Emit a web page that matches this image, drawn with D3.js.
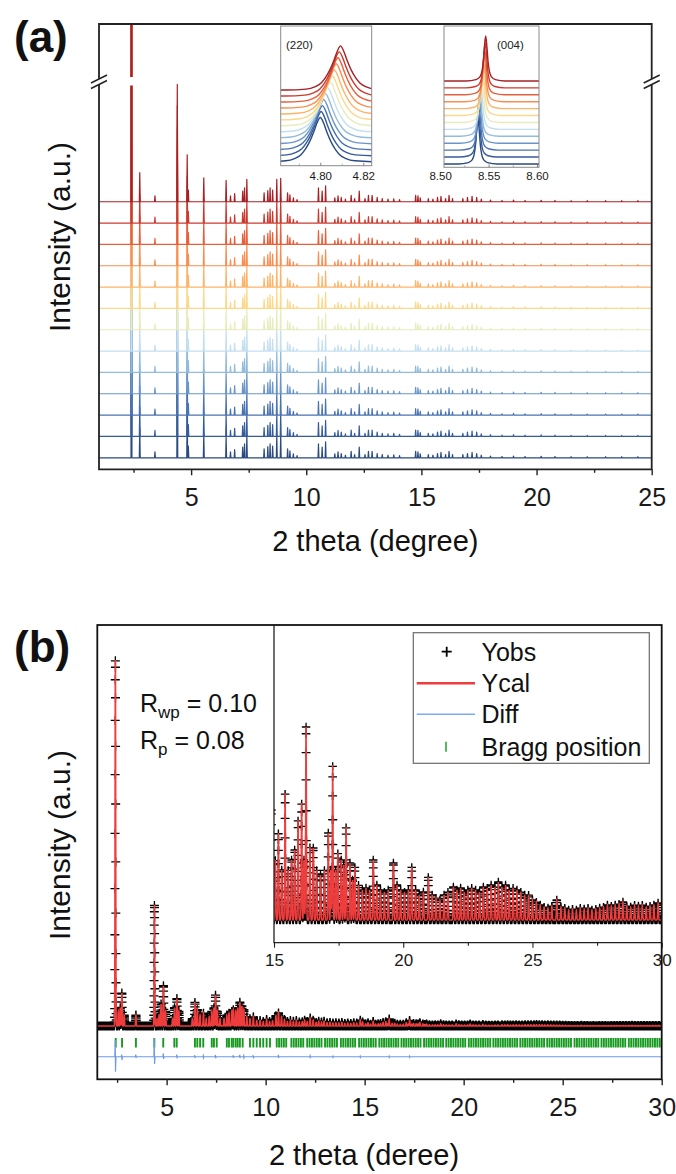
<!DOCTYPE html>
<html><head><meta charset="utf-8">
<script src="https://cdn.jsdelivr.net/npm/d3@7"></script>
<style>body{margin:0;background:#fff}svg{display:block}</style>
</head><body>
<svg id="c" width="676" height="1174"></svg>
<script>
// ---------------- DATA ----------------
// Panel (a): stacked patterns (13 temperatures, bottom -> top)
const aColors = ["#2a4a80","#355b9c","#4a73b2","#6a95c9","#92bbdc","#c4dff0","#e8ecbc","#fdd88a","#fdb46a","#f88e52","#e6603c","#cb3a2e","#a62024"];
const aPeakPos = [2.41,2.77,3.43,4.40,4.83,4.88,5.55,6.52,6.71,6.89,7.24,7.32,7.42,8.17,8.33,8.43,8.54,8.72,8.89,9.19,9.29,9.44,9.60,10.53,10.69,10.84,11.24,11.38,11.52,11.70,11.95,12.10,12.30,12.55,12.70,12.86,13.08,13.30,13.55,13.80,14.05,14.75,14.85,14.95,15.30,15.50,15.70,15.85,16.05,16.20,16.35,16.80,17.00,17.20,17.40,17.60,18.00,18.50,19.00,19.50,20.20,20.80,21.50,22.20,23.00,23.70,24.40];
const aPeakInt = [40,1.36,0.28,5.5,2.2,0.55,1.12,1.0,0.28,0.38,0.5,0.65,1.05,0.42,0.52,0.65,0.55,1.05,1.1,0.42,0.32,0.18,0.1,0.65,0.5,0.75,0.18,0.28,0.2,0.12,0.3,0.15,0.5,0.15,0.3,0.3,0.2,0.15,0.12,0.14,0.1,0.3,0.28,0.18,0.15,0.12,0.2,0.25,0.15,0.3,0.15,0.15,0.2,0.25,0.2,0.12,0.08,0.06,0.08,0.06,0.07,0.06,0.05,0.05,0.05,0.05,0.05];
const aXTicks = [5,10,15,20,25];
const aXMinor = [2.5,7.5,12.5,17.5,22.5];
// (220) inset
const a220Centers = [4.8000,4.8004,4.8010,4.8016,4.8024,4.8034,4.8046,4.8056,4.8065,4.8074,4.8082,4.8088,4.8094];
const profile220Off = [-0.025,-0.016,-0.012,-0.009,-0.007,-0.005,-0.003,-0.0015,0,0.0015,0.003,0.005,0.007,0.009,0.012,0.016,0.025];
const profile220Rel = [0,0.02,0.07,0.16,0.28,0.45,0.68,0.88,1,0.88,0.68,0.45,0.28,0.16,0.07,0.02,0];
const a220Ticks = [4.80,4.82];
const a220Minor = [4.79,4.81];
// (004) inset
const a004Centers = [8.5390,8.5395,8.5400,8.5405,8.5410,8.5420,8.5430,8.5440,8.5450,8.5455,8.5460,8.5465,8.5470];
const profile004Off = [-0.02,-0.01,-0.006,-0.004,-0.0025,-0.0012,0,0.0012,0.0025,0.004,0.006,0.01,0.02];
const profile004Rel = [0,0.03,0.09,0.2,0.42,0.78,1,0.78,0.42,0.2,0.09,0.03,0];
const a004Ticks = [8.50,8.55,8.60];
const a004Minor = [8.525,8.575];

// Panel (b): refinement
const bPos = [2.413,2.56,2.66,2.74,2.86,3.45,4.385,4.52,4.62,4.72,4.84,4.95,5.30,5.40,5.52,5.62,6.30,6.43,6.55,6.69,6.86,7.00,7.15,7.28,7.39,7.47,7.56,7.70,7.90,8.04,8.15,8.29,8.37,8.49,8.59,8.70,8.80,8.90,9.05,9.21,9.38,9.55,9.72,9.88,
10.05,10.20,10.35,10.52,10.65,10.80,10.95,11.10,11.25,11.40,11.55,11.70,11.85,11.97,12.10,12.25,12.40,12.55,12.68,12.82,12.95,13.10,13.25,13.40,13.55,13.70,13.85,14.00,14.15,14.30,14.45,14.60,14.78,14.90,15.05,
15.17,15.30,15.43,15.55,15.68,15.80,15.93,16.07,16.16,16.24,16.39,16.52,16.65,16.80,16.95,17.10,17.20,17.27,17.38,17.47,17.60,17.70,17.79,17.94,18.04,18.13,18.27,18.42,18.56,18.70,18.84,18.98,19.12,19.27,19.42,19.62,19.76,19.90,20.05,20.20,20.33,20.48,20.62,20.78,20.97,21.12,21.27,21.42,21.58,21.73,21.94,22.08,22.22,22.36,22.50,22.65,22.80,22.95,23.10,23.25,23.40,23.55,23.68,23.82,23.96,24.10,24.25,24.40,24.55,24.70,24.85,25.00,25.15,25.30,25.45,25.60,25.75,25.94,26.10,26.25,26.40,26.55,26.70,26.85,27.00,27.15,27.30,27.45,27.60,27.75,27.90,28.05,28.20,28.35,28.50,28.65,28.80,28.95,29.10,29.25,29.40,29.55,29.70,29.86];
const bInt = [100,4,5,9,3,3,33,2,3,6,11,4,2,5,7.5,4,2,6.5,4.5,3,3.5,2,2.5,4,5,8.5,4,2,2,3,3.5,4,4.5,4,5,6.5,5.5,4.5,2.5,2,2.5,1.5,1.5,1.2,
1.8,1.2,1.4,2.8,3.6,2.5,1.8,1.2,1.5,1.3,1.5,1.1,1.2,1.6,1.2,2.2,1.6,1.0,1.3,1.1,1.3,0.9,1.0,0.8,0.9,0.8,1.0,0.7,0.8,0.7,0.9,0.8,1.6,1.1,0.6,
0.87,0.5,1.27,0.5,0.6,0.7,1.0,1.17,0.6,1.93,0.73,0.72,0.5,0.45,0.5,0.87,0.5,1.55,0.5,0.67,0.6,0.55,0.93,0.57,0.4,0.53,0.35,0.3,0.32,0.3,0.6,0.35,0.3,0.28,0.3,0.57,0.35,0.3,0.28,0.3,0.53,0.3,0.25,0.28,0.43,0.25,0.22,0.2,0.25,0.28,0.33,0.3,0.32,0.28,0.3,0.32,0.3,0.28,0.33,0.32,0.35,0.33,0.38,0.33,0.35,0.3,0.32,0.3,0.28,0.25,0.25,0.2,0.18,0.15,0.13,0.12,0.14,0.2,0.13,0.12,0.1,0.11,0.1,0.12,0.11,0.12,0.1,0.11,0.12,0.13,0.15,0.14,0.15,0.16,0.18,0.14,0.13,0.15,0.14,0.15,0.13,0.14,0.15,0.17];
const braggPos = [2.43,2.75,3.45,4.38,4.83,5.39,5.51,6.43,6.55,6.69,6.85,7.28,7.39,7.53,8.04,8.15,8.29,8.37,8.49,8.59,8.70,8.84,9.21,9.38,9.55,9.72,9.88,10.05,10.22,
10.56,10.68,10.80,10.92,11.04,11.30,11.42,11.54,11.66,11.78,11.90,12.10,12.22,12.34,12.46,12.58,12.70,12.82,13.00,13.12,13.24,13.36,13.48,13.60,13.80,13.92,14.04,14.16,14.28,14.40,14.52,14.72,14.84,14.96,15.08,15.20,15.32,15.44,15.56,15.74,15.86,15.98,16.10,16.22,16.34,16.46,16.58,16.70,16.86,16.98,17.10,17.22,17.34,17.46,17.58,17.70,17.82,18.00,18.12,18.24,18.36,18.48,18.60,18.72,18.84,18.96,19.12,19.24,19.36,19.48,19.60,19.72,19.84,19.96,20.08,20.26,20.38,20.50,20.62,20.74,20.86,20.98,21.10,21.22,21.34,21.50,21.62,21.74,21.86,21.98,22.10,22.22,22.34,22.46,22.58,22.70,22.86,22.98,23.10,23.22,23.34,23.46,23.58,23.70,23.82,23.94,24.06,24.22,24.34,24.46,24.58,24.70,24.82,24.94,25.06,25.18,25.30,25.42,25.60,25.72,25.84,25.96,26.08,26.20,26.32,26.44,26.56,26.68,26.80,26.96,27.08,27.20,27.32,27.44,27.56,27.68,27.80,27.92,28.04,28.16,28.34,28.46,28.58,28.70,28.82,28.94,29.06,29.18,29.30,29.42,29.54,29.66,29.78,29.90];
const diffPos = [2.413,2.74,3.45,4.385,4.84,5.52,6.43,6.86,7.47,8.37,8.70,8.90,9.38,10.65,12.25,13.40,14.78,16.24,17.27];
const diffUp = [4.6,0.6,0.6,5.0,0.9,0.6,0.4,0.3,0.5,0.4,0.5,0.3,0.4,0.5,0.3,0.2,0.2,0.2,0.2];
const diffDown = [4.1,0.9,0.3,2.0,0.6,0.4,0.3,0.3,0.4,0.3,0.3,0.3,0.2,0.3,0.2,0.2,0.2,0.2,0.2];
const diffBase = -8.4;
const bXTicks = [5,10,15,20,25,30];
const bXMinor = [2.5,7.5,12.5,17.5,22.5,27.5];
const bInsetTicks = [15,20,25,30];
const bInsetMinor = [17.5,22.5,27.5];
const legendItems = ["Yobs","Ycal","Diff","Bragg position"];

// ---------------- DRAW ----------------
const F = '"Liberation Sans", Arial, Helvetica, sans-serif';
const svg = d3.select('#c');
const defs = svg.append('defs');

function styleAxis(ax, fs, col){
  ax.select('.domain').remove();
  ax.selectAll('line').attr('stroke', col || '#222').attr('stroke-width', 1.4);
  ax.selectAll('text').attr('font-size', fs).attr('font-family', F).attr('fill', '#1a1a1a');
}

// ===== Panel (a) =====
const A = {l:99, r:651.7, t:24, b:469.3};
const xA = d3.scaleLinear().domain([1,25]).range([A.l,A.r]);
const yA = d3.scaleLinear().domain([-0.54,20.33]).range([A.b,A.t]);
defs.append('clipPath').attr('id','clipA').append('rect')
  .attr('x',A.l).attr('y',A.t).attr('width',A.r-A.l).attr('height',A.b-A.t);
const gA = svg.append('g').attr('clip-path','url(#clipA)');
const hw = 0.02;
aColors.forEach((c,i)=>{
  const pts = [[1,0]];
  aPeakPos.forEach((p,k)=>{ pts.push([p-hw,0],[p,aPeakInt[k]],[p+hw,0]); });
  pts.push([25,0]);
  gA.append('path')
    .attr('d', d3.line().x(d=>xA(d[0])).y(d=>yA(i+d[1]))(pts))
    .attr('fill','none').attr('stroke',c).attr('stroke-width',1.2).attr('stroke-linejoin','round');
});
// axis break gap on main peak
svg.append('rect').attr('x',xA(aPeakPos[0])-4).attr('y',77).attr('width',8).attr('height',8.5).attr('fill','#fff');

// insets of (a)
function peakInset(box, xdom, ydom, centers, off, rel, h, label, labelX, ticks, minor, pad){
  const xs = d3.scaleLinear().domain(xdom).range([box.l, box.r]);
  const ys = d3.scaleLinear().domain(ydom).range([box.b, box.t]);
  svg.append('rect').attr('x',box.l).attr('y',box.t).attr('width',box.r-box.l).attr('height',box.b-box.t).attr('fill','#fff');
  const id = 'clip'+label.replace(/\W/g,'');
  defs.append('clipPath').attr('id',id).append('rect').attr('x',box.l).attr('y',box.t).attr('width',box.r-box.l).attr('height',box.b-box.t);
  const g = svg.append('g').attr('clip-path',`url(#${id})`);
  centers.forEach((c,i)=>{
    const pts = [[xdom[0]-0.01,0]];
    off.forEach((o,k)=>pts.push([c+o, rel[k]*h]));
    pts.push([xdom[1]+0.01,0]);
    g.append('path').attr('d', d3.line().curve(d3.curveMonotoneX).x(d=>xs(d[0])).y(d=>ys(i+d[1]))(pts))
      .attr('fill','none').attr('stroke',aColors[i]).attr('stroke-width',1.4);
  });
  svg.append('rect').attr('x',box.l).attr('y',box.t).attr('width',box.r-box.l).attr('height',box.b-box.t)
    .attr('fill','none').attr('stroke','#8a8a8a').attr('stroke-width',1);
  const ax = svg.append('g').attr('transform',`translate(0,${box.b})`)
    .call(d3.axisBottom(xs).tickValues(ticks).tickSizeInner(-3).tickSizeOuter(0).tickPadding(pad).tickFormat(d3.format('.2f')));
  styleAxis(ax, 11.5, '#777');
  ax.selectAll('.tick').filter(d=>d<xdom[0]||d>xdom[1]).select('line').remove();
  ax.selectAll('line').attr('stroke-width',0.9);
  const axm = svg.append('g').attr('transform',`translate(0,${box.b})`)
    .call(d3.axisBottom(xs).tickValues(minor).tickSizeInner(-2).tickSizeOuter(0).tickFormat(''));
  styleAxis(axm, 11, '#999'); axm.selectAll('line').attr('stroke-width',0.8);
  svg.append('text').attr('x',labelX).attr('y',49).attr('font-size',11.5).attr('font-family',F).attr('fill','#222').text(label);
}
peakInset({l:280.7,r:371.7,t:26,b:165.7},[4.7816,4.8239],[-0.67,22.73],a220Centers,profile220Off,profile220Rel,7.4,'(220)',286,a220Ticks,a220Minor,6);
peakInset({l:444,r:539,t:26,b:167.3},[8.504,8.602],[-0.48,19.94],a004Centers,profile004Off,profile004Rel,6.5,'(004)',497,a004Ticks,a004Minor,4.5);

// frame (a) with axis breaks
const fr = svg.append('g').attr('fill','none').attr('stroke','#222').attr('stroke-width',1.8);
fr.append('path').attr('d',`M${A.l},79V${A.t}H${A.r}V79M${A.r},84.5V${A.b}H${A.l}V84.5`);
[A.l, A.r].forEach(x=>{
  [79, 84.5].forEach(y=>{
    svg.append('line').attr('x1',x-8).attr('y1',y+4).attr('x2',x+8).attr('y2',y-4)
      .attr('stroke','#222').attr('stroke-width',1.5);
  });
});
const axA = svg.append('g').attr('transform',`translate(0,${A.b})`)
  .call(d3.axisBottom(xA).tickValues(aXTicks).tickSizeInner(6).tickSizeOuter(0).tickPadding(12.5));
styleAxis(axA, 25);
const axAm = svg.append('g').attr('transform',`translate(0,${A.b})`)
  .call(d3.axisBottom(xA).tickValues(aXMinor).tickSizeInner(3.5).tickSizeOuter(0).tickFormat(''));
styleAxis(axAm, 25);
svg.append('text').attr('x',(A.l+A.r)/2).attr('y',551).attr('text-anchor','middle')
  .attr('font-size',29).attr('font-family',F).attr('fill','#111').text('2 theta (degree)');
svg.append('text').attr('transform','translate(70,237) rotate(-90)').attr('text-anchor','middle')
  .attr('font-size',30).attr('font-family',F).attr('fill','#111').text('Intensity (a.u.)');
svg.append('text').attr('x',14).attr('y',52).attr('font-size',44).attr('font-weight','bold')
  .attr('font-family',F).attr('fill','#111').text('(a)');

// ===== Panel (b) =====
const B = {l:97.3, r:661.7, t:625, b:1079.3};
const xB = d3.scaleLinear().domain([1.5,30]).range([B.l,B.r]);
const yB = d3.scaleLinear().domain([-14.56,109.56]).range([B.b,B.t]);
const sig = 0.015;
function calc(x){
  let s = 0;
  for (let k=0;k<bPos.length;k++){ const d = x-bPos[k]; if (d>-0.08 && d<0.08) s += bInt[k]*Math.exp(-0.5*d*d/(sig*sig)); }
  return s;
}
const calcPts = d3.range(1.5, 30.0001, 0.002).map(x=>[x, calc(x)]);
const obsPts = d3.range(1.5, 30.0001, 0.004).map(x=>[x, calc(x)]);
const plusPath = (pts, xs, ys, s) => pts.map(d=>{ const x=xs(d[0]), y=ys(d[1]); return `M${(x-s).toFixed(2)},${y.toFixed(2)}h${2*s}M${x.toFixed(2)},${(y-s).toFixed(2)}v${2*s}`; }).join('');
const RED = '#ef3d3d';

defs.append('clipPath').attr('id','clipB').append('rect').attr('x',B.l).attr('y',B.t).attr('width',B.r-B.l).attr('height',B.b-B.t);
const gB = svg.append('g').attr('clip-path','url(#clipB)');
gB.append('path').attr('d', plusPath(obsPts, xB, yB, 4.5)).attr('stroke','#000').attr('stroke-width',1.3).attr('fill','none');
gB.append('path').attr('d', d3.line().x(d=>xB(d[0])).y(d=>yB(d[1]))(calcPts)).attr('stroke',RED).attr('stroke-width',1.6).attr('fill','none');
// Bragg positions
gB.selectAll('line.bragg').data(braggPos).join('line').attr('class','bragg')
  .attr('x1',d=>xB(d)).attr('x2',d=>xB(d)).attr('y1',yB(-3.3)).attr('y2',yB(-5.9))
  .attr('stroke','#189a22').attr('stroke-width',1.9);
// Diff
const dPts = [[1.5,diffBase]];
diffPos.forEach((p,k)=>{ dPts.push([p-0.03,diffBase],[p-0.006,diffBase+diffUp[k]],[p+0.006,diffBase-diffDown[k]],[p+0.03,diffBase]); });
dPts.push([30,diffBase]);
gB.append('path').attr('d', d3.line().x(d=>xB(d[0])).y(d=>yB(d[1]))(dPts)).attr('stroke','#6d9be6').attr('stroke-width',1.2).attr('fill','none');

// inset of (b)
const I = {l:274, r:661.7, t:625, b:942.7};
const xI = d3.scaleLinear().domain([15,30]).range([I.l,I.r]);
const yI = d3.scaleLinear().domain([-0.227,2.95]).range([I.b,I.t]);
svg.append('rect').attr('x',I.l).attr('y',I.t).attr('width',I.r-I.l).attr('height',I.b-I.t).attr('fill','#fff');
defs.append('clipPath').attr('id','clipI').append('rect').attr('x',I.l).attr('y',I.t).attr('width',I.r-I.l).attr('height',I.b-I.t);
const gI = svg.append('g').attr('clip-path','url(#clipI)');
const obsI = obsPts.filter(d=>d[0]>=14.8);
const calcI = calcPts.filter(d=>d[0]>=14.8);
gI.append('path').attr('d', plusPath(obsI, xI, yI, 4.2)).attr('stroke','#000').attr('stroke-width',1.3).attr('fill','none');
gI.append('path').attr('d', d3.line().x(d=>xI(d[0])).y(d=>yI(d[1]))(calcI)).attr('stroke',RED).attr('stroke-width',1.5).attr('fill','none');
svg.append('path').attr('d',`M${I.l},${I.t}V${I.b}H${I.r}`).attr('fill','none').attr('stroke','#222').attr('stroke-width',1.3);
const axI = svg.append('g').attr('transform',`translate(0,${I.b})`)
  .call(d3.axisBottom(xI).tickValues(bInsetTicks).tickSizeInner(5).tickSizeOuter(0).tickPadding(6));
styleAxis(axI, 17); axI.selectAll('line').attr('stroke-width',1.1);
const axIm = svg.append('g').attr('transform',`translate(0,${I.b})`)
  .call(d3.axisBottom(xI).tickValues(bInsetMinor).tickSizeInner(3).tickSizeOuter(0).tickFormat(''));
styleAxis(axIm, 17); axIm.selectAll('line').attr('stroke-width',1.1);

// legend
const L = {x:413.3, y:632.7, w:236, h:130.6};
svg.append('rect').attr('x',L.x).attr('y',L.y).attr('width',L.w).attr('height',L.h).attr('fill','#fff').attr('stroke','#6a6a6a').attr('stroke-width',1.2);
const legY = [651.7,683.3,714.3,746.7];
legendItems.forEach((t,i)=>{
  svg.append('text').attr('x',481.5).attr('y',legY[i]+9).attr('font-size',25).attr('font-family',F).attr('fill','#111').text(t);
});
svg.append('path').attr('d',`M441.7,${legY[0]}h10M446.7,${legY[0]-5}v10`).attr('stroke','#000').attr('stroke-width',1.8);
svg.append('line').attr('x1',416.7).attr('x2',475).attr('y1',legY[1]).attr('y2',legY[1]).attr('stroke',RED).attr('stroke-width',2.6);
svg.append('line').attr('x1',416.7).attr('x2',475).attr('y1',legY[2]).attr('y2',legY[2]).attr('stroke','#7eaaf0').attr('stroke-width',1.5);
svg.append('line').attr('x1',446).attr('x2',446).attr('y1',legY[3]-5).attr('y2',legY[3]+5).attr('stroke','#2aa836').attr('stroke-width',1.6);

// R factors
const r1 = svg.append('text').attr('x',140).attr('y',712).attr('font-size',25).attr('font-family',F).attr('fill','#111');
r1.append('tspan').text('R'); r1.append('tspan').attr('font-size',17).attr('dy',6).text('wp'); r1.append('tspan').attr('dy',-6).text(' = 0.10');
const r2 = svg.append('text').attr('x',140).attr('y',749).attr('font-size',25).attr('font-family',F).attr('fill','#111');
r2.append('tspan').text('R'); r2.append('tspan').attr('font-size',17).attr('dy',6).text('p'); r2.append('tspan').attr('dy',-6).text(' = 0.08');

// frame (b)
svg.append('rect').attr('x',B.l).attr('y',B.t).attr('width',B.r-B.l).attr('height',B.b-B.t).attr('fill','none').attr('stroke','#111').attr('stroke-width',1.8);
const axB = svg.append('g').attr('transform',`translate(0,${B.b})`)
  .call(d3.axisBottom(xB).tickValues(bXTicks).tickSizeInner(6).tickSizeOuter(0).tickPadding(13));
styleAxis(axB, 25);
const axBm = svg.append('g').attr('transform',`translate(0,${B.b})`)
  .call(d3.axisBottom(xB).tickValues(bXMinor).tickSizeInner(3.5).tickSizeOuter(0).tickFormat(''));
styleAxis(axBm, 25);
svg.append('text').attr('x',364).attr('y',1165).attr('text-anchor','middle')
  .attr('font-size',29).attr('font-family',F).attr('fill','#111').text('2 theta (deree)');
svg.append('text').attr('transform','translate(70,845) rotate(-90)').attr('text-anchor','middle')
  .attr('font-size',30).attr('font-family',F).attr('fill','#111').text('Intensity (a.u.)');
svg.append('text').attr('x',14).attr('y',662).attr('font-size',44).attr('font-weight','bold')
  .attr('font-family',F).attr('fill','#111').text('(b)');
</script>
</body></html>
